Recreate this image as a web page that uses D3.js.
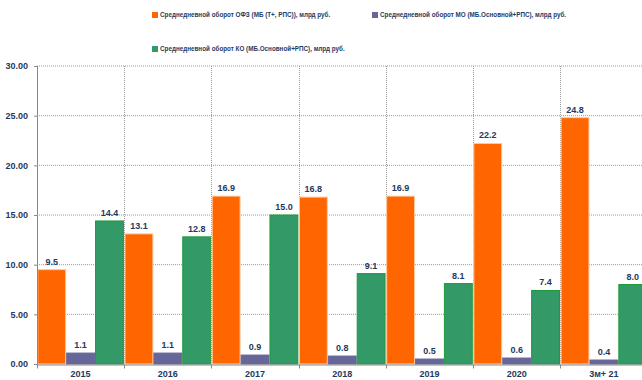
<!DOCTYPE html>
<html>
<head>
<meta charset="utf-8">
<script src="https://cdn.jsdelivr.net/npm/d3@7"></script>
<style>
  body { margin: 0; background: #fff; }
  text { font-family: "Liberation Sans", Arial, sans-serif; font-weight: bold; }
</style>
</head>
<body>
<div id="chart"></div>
<script>
var categories = ["2015", "2016", "2017", "2018", "2019", "2020", "3м+ 21"];
var ofzValues = [9.5, 13.1, 16.9, 16.8, 16.9, 22.2, 24.8];
var moValues = [1.1, 1.1, 0.9, 0.8, 0.5, 0.6, 0.4];
var koValues = [14.4, 12.8, 15.0, 9.1, 8.1, 7.4, 8.0];
var seriesNames = [
    "Среднедневной оборот ОФЗ (МБ (Т+, РПС)), млрд руб.",
    "Среднедневной оборот МО (МБ.Основной+РПС), млрд руб.",
    "Среднедневной оборот КО (МБ.Основной+РПС), млрд руб."
];
var yTicks = [0, 5, 10, 15, 20, 25, 30];

var width = 642, height = 380;
var margin = {top: 66, left: 37, bottom: 16};
var plotRight = 647.5;
var navy = "#1F3A60";

var colors = ["#FF6600", "#666699", "#339966"];
var strokes = ["#FFC9A0", "#666699", "#1E9A3C"];
var keys = ["ofz", "mo", "ko"];

var data = categories.map(function(c, i) {
    return {type: c, ofz: ofzValues[i], mo: moValues[i], ko: koValues[i]};
});

var svg = d3.select("#chart").append("svg")
    .attr("width", width)
    .attr("height", height);

var x = d3.scaleBand().domain(categories).range([margin.left, plotRight]).padding(0);
var x1 = d3.scaleBand().domain(keys).range([0, x.bandwidth()]).paddingInner(0).paddingOuter(0.01);
var y = d3.scaleLinear().domain([0, 30]).range([height - margin.bottom, margin.top]);

// horizontal grid
svg.append("g")
    .selectAll("line")
    .data(yTicks.slice(1))
    .join("line")
    .attr("x1", margin.left)
    .attr("x2", plotRight)
    .attr("y1", d => y(d))
    .attr("y2", d => y(d))
    .attr("stroke", "#999")
    .attr("stroke-width", 1)
    .attr("stroke-dasharray", "1,1");

// vertical grid at band boundaries
var bounds = categories.slice(1).map(function(c) { return x(c); });
svg.append("g")
    .selectAll("line")
    .data(bounds)
    .join("line")
    .attr("x1", d => Math.round(d) + 0.5)
    .attr("x2", d => Math.round(d) + 0.5)
    .attr("y1", y(30))
    .attr("y2", y(0))
    .attr("stroke", "#999")
    .attr("stroke-dasharray", "1,1");

// bars
var groups = svg.append("g")
    .selectAll("g")
    .data(data)
    .join("g")
    .attr("transform", d => "translate(" + x(d.type) + ",0)");

groups.selectAll("rect")
    .data(function(d) {
        return keys.map(function(key, i) { return {key: key, i: i, value: d[key]}; });
    })
    .join("rect")
    .attr("x", d => x1(d.key) + 0.5)
    .attr("y", d => y(d.value))
    .attr("width", d => x1.bandwidth() - 1)
    .attr("height", d => y(0) - y(d.value))
    .attr("fill", d => colors[d.i])
    .attr("stroke", d => strokes[d.i])
    .attr("stroke-width", 1);

groups.selectAll("text")
    .data(function(d) {
        return keys.map(function(key, i) { return {key: key, i: i, value: d[key]}; });
    })
    .join("text")
    .attr("x", d => x1(d.key) + x1.bandwidth() / 2)
    .attr("y", d => y(d.value) - 5)
    .attr("text-anchor", "middle")
    .attr("font-size", "9px")
    .attr("fill", navy)
    .text(d => d.value.toFixed(1));

// y axis
var yAxis = svg.append("g")
    .attr("transform", "translate(" + margin.left + ",0)")
    .call(d3.axisLeft(y).tickValues(yTicks).tickFormat(d3.format(".2f")).tickSize(3).tickPadding(6));
yAxis.select(".domain").attr("stroke", "#888").attr("d", "M0.5," + y(30) + "V" + (y(0) + 0.5));
yAxis.selectAll(".tick line").attr("stroke", "#888");
yAxis.selectAll("text").attr("font-size", "9px").attr("fill", navy)
    .style("font-family", "'Liberation Sans', Arial, sans-serif").style("font-weight", "bold");

// x axis
var xAxis = svg.append("g")
    .attr("transform", "translate(0," + (y(0) + 0.5) + ")")
    .call(d3.axisBottom(x).tickSize(0).tickPadding(6));
xAxis.select(".domain").attr("stroke", "#888");
xAxis.selectAll("text").attr("font-size", "9px").attr("fill", navy)
    .style("font-family", "'Liberation Sans', Arial, sans-serif").style("font-weight", "bold");
xAxis.selectAll(".btick")
    .data(bounds.concat([margin.left]))
    .join("line")
    .attr("class", "btick")
    .attr("x1", d => Math.round(d) + 0.5)
    .attr("x2", d => Math.round(d) + 0.5)
    .attr("y1", 0)
    .attr("y2", 4)
    .attr("stroke", "#888");

// legend
var legendPos = [{x: 152, y: 15}, {x: 372, y: 15}, {x: 152, y: 49}];
var legend = svg.append("g")
    .selectAll("g")
    .data(seriesNames)
    .join("g")
    .attr("transform", (d, i) => "translate(" + legendPos[i].x + "," + legendPos[i].y + ")");

legend.append("rect")
    .attr("x", 0)
    .attr("y", -3)
    .attr("width", 6)
    .attr("height", 6)
    .attr("fill", (d, i) => colors[i]);

legend.append("text")
    .attr("x", 8)
    .attr("y", 0)
    .attr("dy", "0.35em")
    .attr("font-size", "6.3px")
    .attr("fill", navy)
    .text(d => d);
</script>
</body>
</html>
